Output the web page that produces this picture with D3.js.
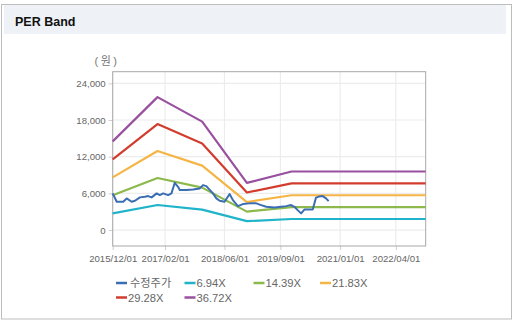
<!DOCTYPE html>
<html>
<head>
<meta charset="utf-8">
<script src="https://cdn.jsdelivr.net/npm/d3@7"></script>
<style>
  html, body { margin: 0; padding: 0; background: #fff; }
  svg { display: block; }
</style>
</head>
<body>
<svg id="chart" width="513" height="323"></svg>
<script>
// ---------- data ----------
const title = "PER Band";
const unitLabel = "(원)";
const yTicks = [0, 6000, 12000, 18000, 24000];
const xTickLabels = ["2015/12/01", "2017/02/01", "2018/06/01", "2019/09/01", "2021/01/01", "2022/04/01"];

const priceName = "수정주가";
const priceDates = ["2015-12-01","2016-01-03","2016-02-25","2016-03-24","2016-05-04","2016-05-31","2016-07-10","2016-08-20","2016-09-16","2016-10-14","2016-11-24","2016-12-20","2017-01-16","2017-02-26","2017-03-25","2017-04-21","2017-05-18","2017-06-01","2017-07-26","2017-09-17","2017-11-11","2017-12-08","2018-01-04","2018-02-27","2018-03-27","2018-04-23","2018-06-02","2018-07-13","2018-08-09","2018-09-19","2018-10-30","2018-12-23","2019-02-16","2019-03-28","2019-05-08","2019-07-15","2019-09-07","2019-10-18","2019-11-28","2019-12-25","2020-01-20","2020-02-17","2020-03-15","2020-04-11","2020-05-22","2020-06-18","2020-07-15","2020-08-11","2020-09-08","2020-09-29"];
const priceValues = [6000,4630,4630,5180,4630,4790,5350,5440,5560,5350,6000,5720,6000,5720,6000,7730,7080,6540,6540,6650,6820,7360,7190,6000,5180,4790,4630,5890,4900,3920,4250,4370,4370,4090,3810,3680,3810,3920,4090,3810,3270,2730,3350,3380,3380,5310,5510,5560,5180,4740];

const bandNames = ["6.94X", "14.39X", "21.83X", "29.28X", "36.72X"];
const bandDates = ["2015-12-01", "2016-12-01", "2017-12-01", "2018-12-01", "2019-12-01", "2022-12-01"];
const band694  = [2741, 4108, 3352, 1457, 1811, 1811];
const band1439 = [5684, 8519, 6950, 3022, 3756, 3756];
const band2183 = [8623, 12923, 10544, 4584, 5698, 5698];
const band2928 = [11566, 17334, 14142, 6149, 7642, 7642];
const band3672 = [14504, 21738, 17736, 7711, 9584, 9584];

// ---------- styling ----------
const priceColor = "#3b6db3";
const bandColors = ["#1fb4c9", "#8cb84c", "#f5b545", "#d23c2e", "#98509f"];

const parse = d3.timeParse("%Y-%m-%d");
const parseTick = d3.timeParse("%Y/%m/%d");

const svg = d3.select("#chart");
const font = "'Liberation Sans', Arial, 'Noto Sans CJK KR', sans-serif";

// outer frame
svg.append("rect").attr("x", 1.5).attr("y", 4.5).attr("width", 510).attr("height", 314.5)
  .attr("fill", "#fff").attr("stroke", "#bdbdbd").attr("stroke-width", 1);
// title bar
svg.append("rect").attr("x", 4).attr("y", 5).attr("width", 502).attr("height", 29)
  .attr("fill", "#eef1f6");
svg.append("text").attr("x", 15).attr("y", 25.5).text(title)
  .attr("font-family", font).attr("font-weight", "bold").attr("font-size", 12.5).attr("fill", "#111");

// scales
const plot = { left: 112.7, right: 425.7, top: 71.7, bottom: 246 };
const x = d3.scaleTime()
  .domain([parse("2015-12-01"), parse("2022-12-01")])
  .range([plot.left, plot.right]);
const y = d3.scaleLinear()
  .domain([-2600, 25900])
  .range([plot.bottom, plot.top]);

const xTicks = xTickLabels.map(parseTick);

// grid
const grid = svg.append("g");
grid.selectAll(".hg").data(yTicks).join("line")
  .attr("x1", plot.left).attr("x2", plot.right)
  .attr("y1", d => y(d)).attr("y2", d => y(d))
  .attr("stroke", "#ececec").attr("stroke-width", 1.2);
grid.selectAll(".vg").data(xTicks).join("line")
  .attr("x1", d => x(d)).attr("x2", d => x(d))
  .attr("y1", plot.top).attr("y2", plot.bottom)
  .attr("stroke", "#ececec").attr("stroke-width", 1.2);

// axes
const yAxis = d3.axisLeft(y).tickValues(yTicks).tickFormat(d3.format(",")).tickSize(4).tickPadding(3);
const gy = svg.append("g").attr("transform", `translate(${plot.left},0)`).call(yAxis);
const xAxis = d3.axisBottom(x).tickValues(xTicks).tickFormat(d3.timeFormat("%Y/%m/%d")).tickSize(4).tickPadding(5);
const gx = svg.append("g").attr("transform", `translate(0,${plot.bottom})`).call(xAxis);
[gx, gy].forEach(g => {
  g.select(".domain").remove();
  g.selectAll(".tick line").attr("stroke", "#cfcfcf");
  g.selectAll("text").attr("font-family", font).attr("font-size", 9.6).attr("fill", "#666");
});

// plot border
svg.append("rect").attr("x", plot.left).attr("y", plot.top)
  .attr("width", plot.right - plot.left).attr("height", plot.bottom - plot.top)
  .attr("fill", "none").attr("stroke", "#a8a8a8").attr("stroke-width", 1);

// unit label
svg.append("text").attr("x", 107).attr("y", 65).attr("text-anchor", "middle")
  .attr("letter-spacing", 2.5)
  .text(unitLabel).attr("font-family", font).attr("font-size", 11).attr("fill", "#777");

// lines
const line = d3.line().x(d => x(d[0])).y(d => y(d[1]));
const bandSeries = [band694, band1439, band2183, band2928, band3672];
const bdates = bandDates.map(parse);
const linesG = svg.append("g");
bandSeries.forEach((vals, i) => {
  linesG.append("path")
    .datum(bdates.map((d, j) => [d, vals[j]]))
    .attr("d", line).attr("fill", "none")
    .attr("stroke", bandColors[i]).attr("stroke-width", 2.2)
    .attr("stroke-linejoin", "round");
});
linesG.append("path")
  .datum(priceDates.map((d, j) => [parse(d), priceValues[j]]))
  .attr("d", line).attr("fill", "none")
  .attr("stroke", priceColor).attr("stroke-width", 2)
  .attr("stroke-linejoin", "round");

// legend
const legendItems = [
  { name: priceName, color: priceColor },
  ...bandNames.map((n, i) => ({ name: n, color: bandColors[i] }))
];
const colX = [116, 184.5, 253.5, 320];
const rowY = [283, 297.5];
const lg = svg.append("g");
legendItems.forEach((it, i) => {
  const col = i % 4, row = Math.floor(i / 4);
  const gx0 = colX[col], gy0 = rowY[row];
  lg.append("line").attr("x1", gx0).attr("x2", gx0 + 11)
    .attr("y1", gy0).attr("y2", gy0)
    .attr("stroke", it.color).attr("stroke-width", 2.5);
  lg.append("text").attr("x", gx0 + (i === 0 ? 14 : 12)).attr("y", gy0 + 4)
    .text(it.name).attr("font-family", font).attr("font-size", 11.2).attr("fill", "#666");
});
</script>
</body>
</html>
